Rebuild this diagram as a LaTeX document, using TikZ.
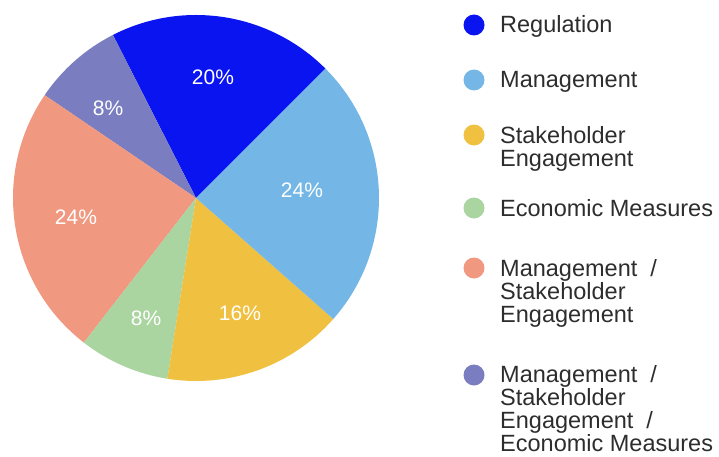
\documentclass[tikz,border=0pt]{standalone}
\usepackage{fontspec}
\setmainfont{Liberation Sans}
\definecolor{creg}{RGB}{10,20,240}
\definecolor{cmgmt}{RGB}{116,183,230}
\definecolor{cstake}{RGB}{240,192,64}
\definecolor{cecon}{RGB}{170,212,160}
\definecolor{cmgst}{RGB}{240,152,128}
\definecolor{call}{RGB}{122,126,192}
\definecolor{ctext}{RGB}{45,45,45}
\tikzset{
  pct/.style={text=white, font=\fontsize{21}{24}\selectfont, inner sep=0pt},
  dot/.style={circle, inner sep=0pt, minimum size=21pt},
  legtext/.style={anchor=base west, align=left, text=ctext, inner sep=0pt, font=\fontsize{23.5}{23}\selectfont},
}
\begin{document}
\begin{tikzpicture}[x=1pt,y=1pt]
\useasboundingbox (0,0) rectangle (719,456);
\coordinate (C) at (196,258);
\def\R{183pt}
\fill[creg]   (C) -- ++(45:\R)    arc[start angle=45,    end angle=117,   radius=\R] -- cycle;
\fill[call]   (C) -- ++(117:\R)   arc[start angle=117,   end angle=145.8, radius=\R] -- cycle;
\fill[cmgst]  (C) -- ++(145.8:\R) arc[start angle=145.8, end angle=232.2, radius=\R] -- cycle;
\fill[cecon]  (C) -- ++(232.2:\R) arc[start angle=232.2, end angle=261,   radius=\R] -- cycle;
\fill[cstake] (C) -- ++(261:\R)   arc[start angle=261,   end angle=318.6, radius=\R] -- cycle;
\fill[cmgmt]  (C) -- ++(318.6:\R) arc[start angle=318.6, end angle=405,   radius=\R] -- cycle;
\node[pct] (p1) at (213,379) {20\%};
\node[pct] (p2) at (302,266) {24\%};
\node[pct] (p3) at (240,143) {16\%};
\node[pct] (p4) at (146,138) {8\%};
\node[pct] (p5) at (76,239) {24\%};
\node[pct] (p6) at (108,348) {8\%};
% legend
\node[dot, fill=creg]   (d1) at (474,431) {};
\node[dot, fill=cmgmt]  (d2) at (474,376) {};
\node[dot, fill=cstake] (d3) at (474,321) {};
\node[dot, fill=cecon]  (d4) at (474,248) {};
\node[dot, fill=cmgst]  (d5) at (474,188) {};
\node[dot, fill=call]   (d6) at (474,81) {};
% base anchor of a multi-line node is the baseline of its last line
\node[legtext] (l1) at (500,423) {Regulation};
\node[legtext] (l2) at (500,368) {Management};
\node[legtext] (l3) at (500,290) {Stakeholder\\Engagement};
\node[legtext] (l4) at (500,240) {Economic Measures};
\node[legtext] (l5) at (500,134) {Management~~/\\Stakeholder\\Engagement};
\node[legtext] (l6) at (500,5) {Management~~/\\Stakeholder\\Engagement~~/\\Economic Measures};
\end{tikzpicture}
\end{document}
